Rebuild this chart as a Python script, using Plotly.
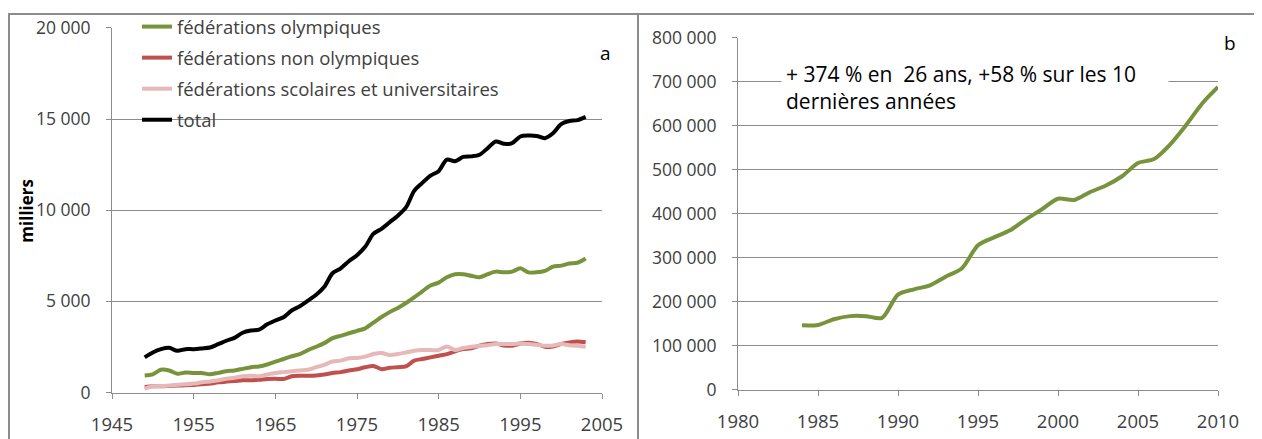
import plotly.graph_objects as go

# ---------------- data ----------------
years_a = list(range(1949, 2004))
olympiques = [940, 1000, 1250, 1210, 1030, 1100, 1070, 1070, 1000, 1080,
              1170, 1210, 1300, 1390, 1430, 1540, 1700, 1840, 1990, 2110,
              2330, 2510, 2710, 2980, 3110, 3250, 3380, 3520, 3830, 4140,
              4410, 4640, 4910, 5220, 5550, 5870, 6030, 6320, 6490, 6490,
              6400, 6320, 6490, 6630, 6590, 6630, 6810, 6590, 6590, 6670,
              6900, 6960, 7080, 7120, 7350]
non_olympiques = [310, 340, 340, 360, 380, 400, 420, 450, 490, 560,
                  600, 630, 670, 670, 700, 740, 760, 740, 890, 920,
                  920, 940, 990, 1070, 1120, 1210, 1280, 1390, 1460, 1280,
                  1360, 1390, 1430, 1750, 1840, 1930, 2020, 2110, 2260, 2380,
                  2420, 2570, 2660, 2690, 2580, 2570, 2690, 2730, 2660, 2510,
                  2530, 2660, 2750, 2800, 2760]
scolaires = [220, 340, 360, 380, 430, 450, 490, 560, 610, 670,
             760, 810, 900, 920, 900, 990, 1070, 1120, 1170, 1210,
             1250, 1390, 1520, 1700, 1750, 1880, 1900, 1970, 2110, 2170,
             2060, 2110, 2200, 2290, 2330, 2330, 2330, 2530, 2330, 2440,
             2510, 2570, 2600, 2660, 2660, 2660, 2690, 2660, 2620, 2570,
             2580, 2660, 2600, 2570, 2510]
total = [1930, 2200, 2380, 2450, 2290, 2380, 2380, 2420, 2470, 2650,
         2840, 3000, 3280, 3400, 3450, 3740, 3950, 4130, 4500, 4730,
         5040, 5360, 5800, 6540, 6810, 7200, 7530, 7990, 8700, 8980,
         9340, 9700, 10150, 11060, 11500, 11900, 12140, 12770, 12680, 12920,
         12950, 13040, 13400, 13770, 13640, 13680, 14040, 14090, 14070, 13950,
         14220, 14720, 14890, 14940, 15120]

years_b = list(range(1984, 2011))
values_b = [146000, 147000, 160000, 167000, 167000, 163000, 216000, 228000, 237000,
            257000, 276000, 328000, 346000, 362000, 387000, 410000, 434000, 431000,
            449000, 464000, 485000, 515000, 524000, 557000, 601000, 650000, 688000]

names_a = ["fédérations olympiques", "fédérations non olympiques",
           "fédérations scolaires et universitaires", "total"]
x_ticks_a = [1945, 1955, 1965, 1975, 1985, 1995, 2005]
x_ticks_b = [1980, 1985, 1990, 1995, 2000, 2005, 2010]
note_b = "+ 374 % en  26 ans, +58 % sur les 10<br>dernières années"

# ---------------- styling ----------------
# the page body has an 8px default margin: figure is offset by 8px
OFF = 8
W, H = 1262 - OFF, 439 - OFF
FONT = "Open Sans"
TXT = "#404040"
GRID = "#8c8c8c"
colors_a = ["#77933C", "#C0504D", "#E6B9B8", "#000000"]


def px(x):
    return (x - OFF) / W


def py(y):
    return 1 - (y - OFF) / H


fig = go.Figure()
series_a = [olympiques, non_olympiques, scolaires, total]
for i, (name, vals, col) in enumerate(zip(names_a, series_a, colors_a)):
    fig.add_trace(go.Scatter(
        x=years_a, y=vals, name=name, mode="lines",
        line=dict(color=col, width=4, shape="spline", smoothing=0.8),
        xaxis="x", yaxis="y", legendgroup=f"g{i}", showlegend=True))

fig.add_trace(go.Scatter(
    x=years_b, y=values_b, mode="lines", showlegend=False,
    line=dict(color="#77933C", width=4, shape="spline", smoothing=0.8),
    xaxis="x2", yaxis="y2"))

axis_common = dict(
    showline=True, linecolor=GRID, linewidth=1,
    ticks="outside", ticklen=5, tickcolor=GRID,
    zeroline=False, automargin=False,
)
xfont = dict(family=FONT, size=18.5, color=TXT)
yfont = dict(family=FONT, size=17.5, color=TXT)

fig.update_layout(
    template="none",
    width=W, height=H,
    margin=dict(l=0, r=0, t=0, b=0, pad=0),
    paper_bgcolor="white", plot_bgcolor="white",
    separators=", ",
    font=dict(family=FONT, size=18, color=TXT),
    xaxis=dict(domain=[px(112), px(602)], range=[1945, 2005], tickvals=x_ticks_a,
               tickformat="d", showgrid=False, anchor="y",
               ticklabelstandoff=10, tickfont=xfont, **axis_common),
    yaxis=dict(domain=[py(392), py(23)], range=[0, 20000], dtick=5000,
               tickformat=",d", showgrid=True, gridcolor=GRID, gridwidth=1,
               anchor="x", ticklabelstandoff=12, tickfont=yfont, **axis_common),
    xaxis2=dict(domain=[px(738), px(1218)], range=[1980, 2010], tickvals=x_ticks_b,
                tickformat="d", showgrid=False, anchor="y2",
                ticklabelstandoff=10, tickfont=xfont, **axis_common),
    yaxis2=dict(domain=[py(389), py(33)], range=[0, 800000], dtick=100000,
                tickformat=",d", showgrid=True, gridcolor=GRID, gridwidth=1,
                anchor="x2", ticklabelstandoff=12, tickfont=yfont, **axis_common),
    legend=dict(x=px(137), y=py(3), xanchor="left", yanchor="top",
                bgcolor="rgba(0,0,0,0)", borderwidth=0, traceorder="grouped",
                tracegroupgap=4,
                font=dict(family=FONT, size=18.5, color=TXT)),
    shapes=[
        # white area behind the legend, hiding the gridlines there
        dict(type="rect", xref="paper", yref="paper",
             x0=px(113), x1=px(510), y0=py(135), y1=py(12),
             fillcolor="white", line=dict(width=0), layer="between"),
        dict(type="rect", xref="paper", yref="paper",
             x0=px(9), x1=px(638), y0=-0.05, y1=py(9),
             line=dict(color="#8c8c8c", width=2), layer="above"),
        dict(type="rect", xref="paper", yref="paper",
             x0=px(638), x1=px(1260), y0=-0.05, y1=py(9),
             line=dict(color="#8c8c8c", width=2), layer="above"),
    ],
    annotations=[
        dict(text="a", xref="paper", yref="paper", x=px(605), y=py(48),
             xanchor="center", yanchor="middle",
             showarrow=False, font=dict(family=FONT, size=19, color="#000")),
        dict(text="b", xref="paper", yref="paper", x=px(1230), y=py(38),
             xanchor="center", yanchor="middle",
             showarrow=False, font=dict(family=FONT, size=19, color="#000")),
        dict(text="<b>milliers</b>", xref="paper", yref="paper", x=px(27), y=py(208),
             xanchor="center", yanchor="middle",
             textangle=-90, showarrow=False,
             font=dict(family=FONT, size=17, color="#000")),
        dict(text=note_b, xref="paper", yref="paper", x=px(781), y=py(50),
             xanchor="left", yanchor="top", align="left", showarrow=False,
             bgcolor="white", width=378, borderpad=4,
             font=dict(family=FONT, size=21, color="#000")),
    ],
)

fig.write_html("out.html")
